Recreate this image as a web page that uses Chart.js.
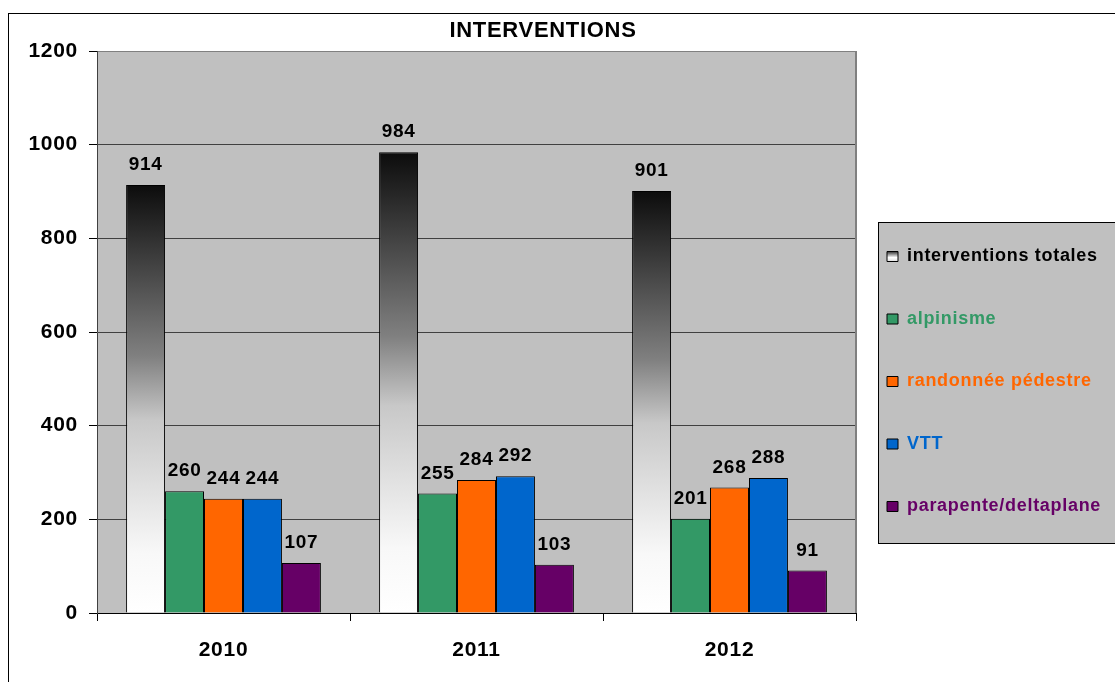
<!DOCTYPE html>
<html>
<head>
<meta charset="utf-8">
<title>INTERVENTIONS</title>
<script src="https://cdn.jsdelivr.net/npm/chart.js@4/dist/chart.umd.min.js"></script>
<style>
    html, body { margin: 0; padding: 0; background: #fff; overflow: hidden; }
    #chart { display: block; }
</style>
</head>
<body>
<canvas id="chart" width="1115" height="682"></canvas>
<script>
// data
const years = ['2010', '2011', '2012'];
const seriesNames = ['interventions totales', 'alpinisme', 'randonnée pédestre', 'VTT', 'parapente/deltaplane'];
const totales = [914, 984, 901];
const alpinisme = [260, 255, 201];
const randonnee = [244, 284, 268];
const vtt = [244, 292, 288];
const parapente = [107, 103, 91];
const yTicks = [0, 200, 400, 600, 800, 1000, 1200];

const seriesColors = ['#000000', '#339966', '#ff6600', '#0066cc', '#660066'];
const FONT = '"Liberation Sans", Arial, Helvetica, sans-serif';
const SPACING = '0.7px';
const LEGEND_PAD = 44.5;

Chart.defaults.font.family = FONT;
Chart.defaults.color = '#000';

// black -> white fill for the totals bars, one gradient per bar
function totalFill(ctx) {
    const chart = ctx.chart;
    if (!chart.chartArea || ctx.type !== 'data') return '#808080';
    const y = chart.scales.y;
    const top = y.getPixelForValue(ctx.raw);
    const bottom = y.getPixelForValue(0);
    const g = chart.ctx.createLinearGradient(0, top, 0, bottom);
    g.addColorStop(0, '#0c0c0c');
    g.addColorStop(0.4, '#808080');
    g.addColorStop(0.55, '#c8c8c8');
    g.addColorStop(0.86, '#f8f8f8');
    g.addColorStop(1, '#ffffff');
    return g;
}

const frame = {
    id: 'frame',
    beforeUpdate(chart) { chart.ctx.letterSpacing = SPACING; },
    beforeDraw(chart) {
        const c = chart.ctx;
        c.letterSpacing = SPACING;
        const a = chart.chartArea;
        c.save();
        // outer frame
        c.strokeStyle = '#000';
        c.lineWidth = 1;
        c.strokeRect(8.5, 13.5, chart.width + 20, chart.height + 20);
        // plot background
        c.fillStyle = '#c0c0c0';
        c.fillRect(a.left, a.top, a.right - a.left, a.bottom - a.top);
        // legend box
        c.fillRect(878.5, 222.5, 260, 321);
        c.strokeRect(878.5, 222.5, 260, 321);
        c.restore();
    },
    afterLayout(chart) {
        // move legend and title where they sit in the picture
        const lg = chart.legend;
        lg.left = 887 - LEGEND_PAD;
        lg.right = 1140;
        lg.top = 247.5 - LEGEND_PAD;
        lg.bottom = 700;
        lg.width = lg.right - lg.left;
        lg.height = lg.bottom - lg.top;
        const t = chart.titleBlock;
        t.left = 0;
        t.right = 1086;
        t.width = 1086;
    },
    beforeDatasetsDraw(chart) {
        const c = chart.ctx;
        const a = chart.chartArea;
        c.save();
        c.strokeStyle = '#808080';
        c.lineWidth = 2;
        c.beginPath();
        c.moveTo(a.right, a.top);
        c.lineTo(a.right, a.bottom);
        c.stroke();
        c.restore();
    },
    afterDatasetsDraw(chart) {
        const c = chart.ctx;
        c.save();
        c.font = 'bold 19px ' + FONT;
        c.fillStyle = '#000';
        c.textAlign = 'center';
        c.textBaseline = 'middle';
        chart.data.datasets.forEach((ds, i) => {
            chart.getDatasetMeta(i).data.forEach((bar, j) => {
                c.fillText(ds.data[j], bar.x, bar.y - 20);
            });
        });
        c.restore();
    }
};

const allSeries = [totales, alpinisme, randonnee, vtt, parapente];

const datasets = allSeries.map((values, i) => ({
    label: seriesNames[i],
    data: values,
    backgroundColor: i === 0 ? totalFill : seriesColors[i],
    borderColor: '#000',
    borderWidth: 1,
    barPercentage: 1,
    categoryPercentage: 0.77
}));

new Chart(document.getElementById('chart'), {
    type: 'bar',
    data: { labels: years, datasets: datasets },
    options: {
        responsive: false,
        animation: false,
        events: [],
        layout: { padding: { left: 0, right: 259, top: 0, bottom: 0 } },
        plugins: {
            title: {
                display: true,
                text: 'INTERVENTIONS',
                color: '#000',
                font: { size: 22, weight: 'bold' },
                padding: { top: 17.8, bottom: 6.8 }
            },
            legend: {
                display: true,
                position: 'chartArea',
                align: 'start',
                labels: {
                    boxWidth: 11,
                    boxHeight: 10,
                    padding: LEGEND_PAD,
                    font: { size: 18, weight: 'bold' },
                    generateLabels(chart) {
                        const items = Chart.defaults.plugins.legend.labels.generateLabels(chart);
                        items.forEach((it, i) => {
                            it.fontColor = seriesColors[i];
                            it.strokeStyle = '#000';
                            it.lineWidth = 1;
                        });
                        const lg = chart.legend;
                        if (lg && lg.top !== undefined) {
                            const y0 = lg.top + LEGEND_PAD + 4;
                            const g = chart.ctx.createLinearGradient(0, y0, 0, y0 + 10);
                            g.addColorStop(0, '#303030');
                            g.addColorStop(0.6, '#ffffff');
                            g.addColorStop(1, '#e0e0e0');
                            items[0].fillStyle = g;
                        }
                        return items;
                    }
                }
            },
            tooltip: { enabled: false }
        },
        scales: {
            x: {
                ticks: { font: { size: 21, weight: 'bold' }, color: '#000', padding: 17 },
                grid: { drawOnChartArea: false, tickLength: 8, color: '#000', offset: true },
                border: { color: '#000', width: 1 },
                afterFit(axis) { axis.height = 69; }
            },
            y: {
                min: 0,
                max: 1200,
                afterBuildTicks(axis) { axis.ticks = yTicks.map(v => ({ value: v })); },
                ticks: {
                    font: { size: 21, weight: 'bold' },
                    color: '#000',
                    padding: 11,
                    callback: v => String(v)
                },
                grid: {
                    color: ctx => (ctx.tick && ctx.tick.value === 1200) ? '#808080' : '#404040',
                    tickColor: '#000',
                    tickLength: 8,
                    lineWidth: 1
                },
                border: { color: '#404040', width: 1 },
                afterFit(axis) { axis.width = 97; }
            }
        }
    },
    plugins: [frame]
});
</script>
</body>
</html>
